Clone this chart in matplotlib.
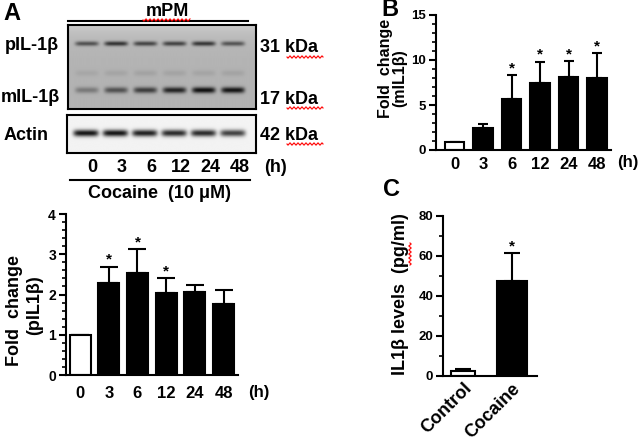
import numpy as np
import matplotlib
matplotlib.use("Agg")
import matplotlib.pyplot as plt
from matplotlib.ticker import MultipleLocator
from matplotlib.transforms import blended_transform_factory

plt.rcParams['font.family'] = ['Liberation Sans', 'DejaVu Sans']
plt.rcParams['font.weight'] = 'bold'
plt.rcParams['axes.linewidth'] = 1.5

hours = ['0', '3', '6', '12', '24', '48']

# panel A: pIL-1beta fold change (mean, upper SEM)
pil_mean = [1.0, 2.29, 2.53, 2.03, 2.07, 1.76]
pil_err = [0.0, 0.40, 0.60, 0.37, 0.17, 0.35]
pil_sig = [False, True, True, True, False, False]

# panel B: mIL-1beta fold change
mil_mean = [0.93, 2.45, 5.67, 7.48, 8.14, 8.03]
mil_err = [0.0, 0.45, 2.63, 2.32, 1.75, 2.70]
mil_sig = [False, False, True, True, True, True]

# panel C: ELISA IL1beta (pg/ml)
elisa_groups = ['Control', 'Cocaine']
elisa_mean = [2.2, 47.5]
elisa_err = [1.3, 13.7]
elisa_sig = [False, True]

# western blot band strengths per lane (0 = no band, 1 = darkest)
band_pil = [0.7, 0.9, 0.78, 0.8, 0.88, 0.68]
band_mid = [0.12, 0.14, 0.16, 0.15, 0.14, 0.15]
band_mil = [0.35, 0.6, 0.72, 0.88, 1.0, 0.97]
band_actin = [1.0, 1.0, 0.95, 0.9, 0.9, 0.8]

W, H = 644, 440
fig = plt.figure(figsize=(W / 100, H / 100), dpi=100)


def px_axes(x0, y0, x1, y1):
    # axes placed by pixel box (top-left origin)
    return fig.add_axes([x0 / W, 1 - y1 / H, (x1 - x0) / W, (y1 - y0) / H])


def bar_panel(ax, means, errs, sig, fills, width, ymax, major, minor,
              capsize, ysize, xlim):
    x = np.arange(len(means))
    ax.bar(x, means, width=width, color=fills, edgecolor='black',
           linewidth=1.5, zorder=2)
    ax.errorbar(x, means, yerr=[np.zeros(len(errs)), errs], fmt='none',
                ecolor='black', elinewidth=1.5, capsize=capsize,
                capthick=1.5, zorder=1)
    for i in range(len(means)):
        if sig[i]:
            ax.annotate('*', (x[i], means[i] + errs[i]), xytext=(0, 0),
                        textcoords='offset points', ha='center',
                        va='bottom', fontsize=11)
    ax.set_xlim(*xlim)
    ax.set_ylim(0, ymax)
    ax.yaxis.set_major_locator(MultipleLocator(major))
    ax.yaxis.set_minor_locator(MultipleLocator(minor))
    ax.spines['top'].set_visible(False)
    ax.spines['right'].set_visible(False)
    ax.tick_params(axis='y', which='major', direction='out', length=5,
                   width=1.5, labelsize=ysize, pad=2)
    ax.tick_params(axis='y', which='minor', direction='out', length=3,
                   width=1.2)
    ax.tick_params(axis='x', length=0)
    ax.set_facecolor('none')
    return x


def blot(ax, rows, bg_top, bg, height):
    x0, x1 = -0.64, 5.78
    xs = np.linspace(x0, x1, 400)
    ys = np.arange(height * 4) / 4.0
    # slightly lighter toward the top edge of the membrane
    img = np.repeat((bg + (bg_top - bg) * np.exp(-ys / 12.0))[:, None],
                    len(xs), axis=1)
    for yc, sy, half, strengths, dark in rows:
        for i, s in enumerate(strengths):
            prof = (np.exp(-np.abs((xs - i) / half) ** 6)[None, :] *
                    np.exp(-((ys - yc) / sy) ** 2)[:, None])
            img -= (bg - dark) * s * prof
    img = np.clip(img, 0, 1)
    ax.imshow(img, cmap='gray', vmin=0, vmax=1, extent=(x0, x1, height, 0),
              aspect='auto', interpolation='bilinear')
    ax.set_xlim(x0, x1)
    ax.set_ylim(height, 0)
    ax.set_xticks([])
    ax.set_yticks([])
    for s in ax.spines.values():
        s.set_linewidth(1.5)


# ---- western blot ----
ax_b1 = px_axes(68, 25, 256, 109)
blot(ax_b1, [(18.5, 2.3, 0.4, band_pil, 0.12),
             (48, 3.0, 0.4, band_mid, 0.3),
             (65, 3.0, 0.4, band_mil, 0.06)], 0.8, 0.7, 84)
ax_b2 = px_axes(67, 115, 256, 153)
blot(ax_b2, [(18.5, 3.3, 0.43, band_actin, 0.08)], 0.96, 0.95, 38)
tr = blended_transform_factory(ax_b2.transData, ax_b2.transAxes)
for i, h in enumerate(hours):
    ax_b2.text(i + 0.22, -0.38, h, transform=tr, ha='center', va='center',
               fontsize=13)

# ---- panel A bars ----
axA = px_axes(65.7, 214, 238, 375)
xa = bar_panel(axA, pil_mean, pil_err, pil_sig,
               ['white'] + ['black'] * 5, 0.73, 4, 1, 0.2, 6.5, 10,
               (-0.5, 5.5))
axA.set_xticks(xa)
axA.set_xticklabels(hours, fontsize=12)
axA.tick_params(axis='x', pad=8)

# ---- panel B bars ----
axB = px_axes(436, 15, 611, 150)
xb = bar_panel(axB, mil_mean, mil_err, mil_sig,
               ['white'] + ['black'] * 5, 0.68, 15, 5, 1, 3.5, 9.5,
               (-0.65, 5.49))
axB.set_xticks(xb)
axB.set_xticklabels(hours, fontsize=12)
axB.tick_params(axis='x', pad=5)

# ---- panel C bars ----
axC = px_axes(443, 215.7, 537, 375.7)
xc = bar_panel(axC, elisa_mean, elisa_err, elisa_sig, ['white', 'black'],
               [0.5, 0.62], 80, 20, 10, 6, 9.5, (-0.41, 1.51))
axC.set_xticks(xc)
axC.set_xticklabels(elisa_groups, fontsize=13, rotation=45, ha='right',
                    va='top', rotation_mode='anchor')
axC.tick_params(axis='x', pad=3)

# ---- overlay for labels ----
ov = fig.add_axes([0, 0, 1, 1], zorder=10)
ov.set_xlim(0, W)
ov.set_ylim(H, 0)
ov.axis('off')
ov.patch.set_alpha(0)


def t(x, y, s, size=13, ha='left', rot=0):
    ov.text(x, y, s, fontsize=size, ha=ha, va='center', rotation=rot)


def wavy(x0, x1, y, vertical=False):
    u = np.linspace(x0, x1, 60)
    w = y + 1.1 * np.sin((u - x0) * 2 * np.pi / 4.0)
    if vertical:
        ov.plot(w, u, color='red', lw=0.8)
    else:
        ov.plot(u, w, color='red', lw=0.8)


t(3, 13, 'A', size=17)
t(381, 10, 'B', size=17)
t(383, 190, 'C', size=17)

t(167, 12, 'mPM', ha='center')
ov.plot([68, 248], [21, 21], color='black', lw=1.5)
wavy(143, 190, 20)
t(5, 46, 'pIL-1β')
t(1, 98, 'mIL-1β')
t(4, 136, 'Actin')
t(260, 47, '31 kDa')
t(260, 100, '17 kDa')
t(260, 135, '42 kDa')
wavy(287, 323, 57)
wavy(287, 323, 108)
wavy(287, 323, 144)
t(264, 167, '(h)')
ov.plot([70, 250], [180, 180], color='black', lw=1.5)
t(160, 193, 'Cocaine  (10 μM)', ha='center')

t(15, 310, 'Fold  change', ha='center', rot=90)
t(35, 305, '(pIL1β)', ha='center', rot=90)
t(248, 393, '(h)', size=12)

t(386, 68, 'Fold  change', size=11.5, ha='center', rot=90)
t(400, 78, '(mIL1β)', size=11.5, ha='center', rot=90)
t(617, 163, '(h)', size=12)

t(401, 294, 'IL1β levels  (pg/ml)', size=13, ha='center', rot=90)
wavy(243, 265, 410, vertical=True)

fig.savefig('out.png', dpi=100)
